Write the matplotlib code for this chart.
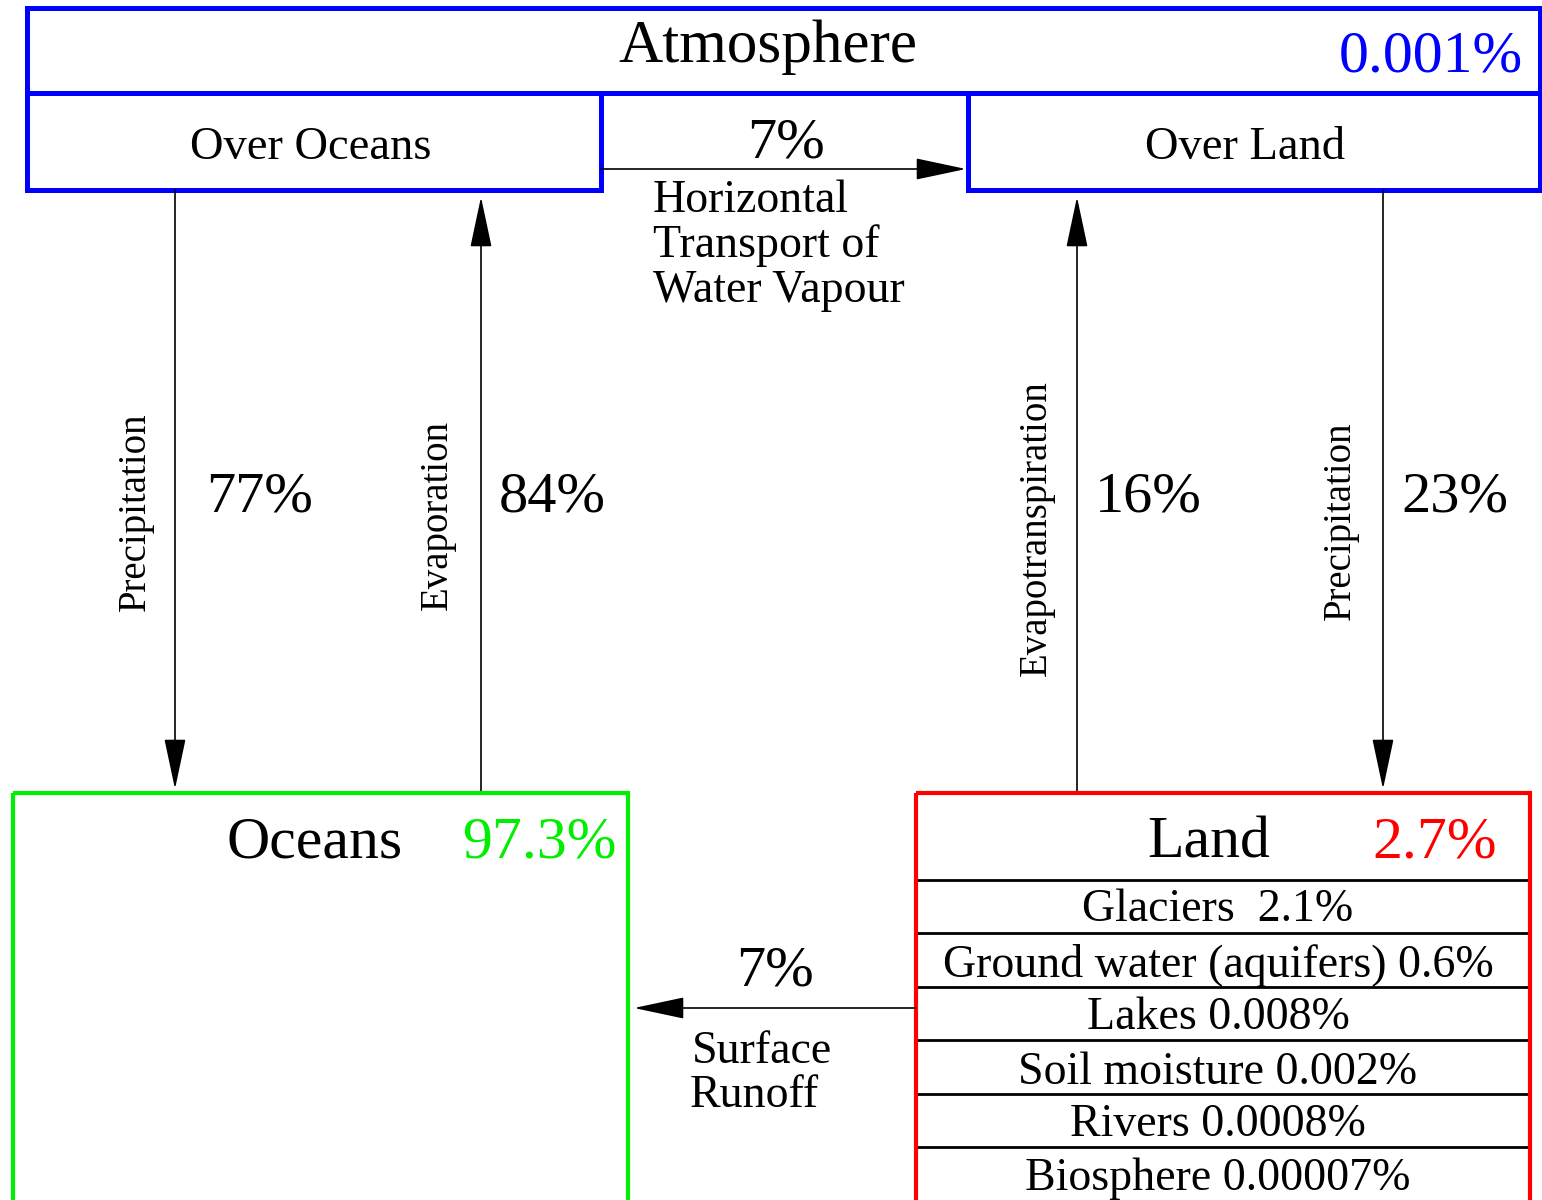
import matplotlib
matplotlib.use('Agg')
from matplotlib import pyplot as plt
from matplotlib.patches import Rectangle

# stores and fluxes (percent of total water)
atmosphere_pct = '0.001%'
ocean_pct = '97.3%'
land_pct = '2.7%'
land_parts = ['Glaciers ', 'Ground water (aquifers)', 'Lakes', 'Soil moisture', 'Rivers', 'Biosphere']
land_part_pcts = ['2.1%', '0.6%', '0.008%', '0.002%', '0.0008%', '0.00007%']

flux_names = ['Precipitation', 'Evaporation', 'Evapotranspiration', 'Precipitation']
flux_pcts = [77, 84, 16, 23]
vapour_transport_pct = 7
runoff_pct = 7

plt.rcParams['font.family'] = ['Liberation Serif', 'DejaVu Serif']

BLUE = '#0000ff'
GREEN = '#00ee00'
RED = '#ff0000'

fig = plt.figure(figsize=(15.42, 12), dpi=100)
ax = fig.add_axes([0, 0, 1, 1])
ax.set_xlim(0, 1542)
ax.set_ylim(1200, 0)
ax.axis('off')


def box(x0, y0, x1, y1, color, lw):
    ax.add_patch(Rectangle((x0, y0), x1 - x0, y1 - y0, fill=False, edgecolor=color, lw=lw, zorder=3))


def arrow(x0, y0, x1, y1):
    ax.annotate('', xy=(x1, y1), xytext=(x0, y0),
                arrowprops=dict(arrowstyle='-|>,head_length=1.6,head_width=0.34', mutation_scale=20,
                                lw=1.2, color='black', shrinkA=0, shrinkB=0))


# atmosphere
box(27, 8, 1540, 93, BLUE, 3.6)
box(27, 93, 601, 190, BLUE, 3.6)
box(968, 93, 1540, 190, BLUE, 3.6)
ax.text(768, 62, 'Atmosphere', fontsize=44, ha='center', va='baseline')
ax.text(1523, 72, atmosphere_pct, fontsize=43, ha='right', va='baseline', color=BLUE)
ax.text(311, 159, 'Over Oceans', fontsize=33.5, ha='center', va='baseline')
ax.text(1245, 159, 'Over Land', fontsize=33.5, ha='center', va='baseline')

# horizontal transport
arrow(601, 169, 966, 169)
ax.text(786, 158, f'{vapour_transport_pct}%', fontsize=42, ha='center', va='baseline')
for i, line in enumerate(['Horizontal', 'Transport of', 'Water Vapour']):
    ax.text(653, 212 + i * 45, line, fontsize=33, ha='left', va='baseline')

# vertical fluxes
flux_x = [175, 481, 1077, 1383]
flux_down = [True, False, False, True]
name_xy = [(135, 512), (437, 515), (1036, 528), (1340, 521)]
pct_x = [260, 552, 1148, 1455]
for name, pct, x, down, (nx, ny), px in zip(flux_names, flux_pcts, flux_x, flux_down, name_xy, pct_x):
    if down:
        arrow(x, 190, x, 789)
    else:
        arrow(x, 793, x, 197)
    ax.text(nx, ny, name, fontsize=28, rotation=90, ha='center', va='center')
    ax.text(px, 512, f'{pct}%', fontsize=42, ha='center', va='baseline')

# oceans
box(13, 793, 628, 1215, GREEN, 3.0)
ax.text(403, 857, 'Oceans', fontsize=43, ha='right', va='baseline')
ax.text(616, 857, ocean_pct, fontsize=43, ha='right', va='baseline', color=GREEN)

# land
box(916, 793, 1530, 1215, RED, 3.0)
ax.text(1209, 857, 'Land', fontsize=43, ha='center', va='baseline')
ax.text(1435, 857, land_pct, fontsize=43, ha='center', va='baseline', color=RED)
row_lines = [880, 933, 987, 1040, 1094, 1147]
row_base = [921, 977, 1029, 1084, 1136, 1190]
for yl, yb, part, pct in zip(row_lines, row_base, land_parts, land_part_pcts):
    ax.plot([918, 1528], [yl, yl], color='black', lw=2.0, zorder=2)
    ax.text(1218, yb, f'{part} {pct}', fontsize=33, ha='center', va='baseline')

# runoff
arrow(916, 1008, 634, 1008)
ax.text(775, 985, f'{runoff_pct}%', fontsize=42, ha='center', va='baseline')
ax.text(692, 1063, 'Surface', fontsize=33, ha='left', va='baseline')
ax.text(690, 1107, 'Runoff', fontsize=33, ha='left', va='baseline')

plt.savefig('out.png', dpi=100)
